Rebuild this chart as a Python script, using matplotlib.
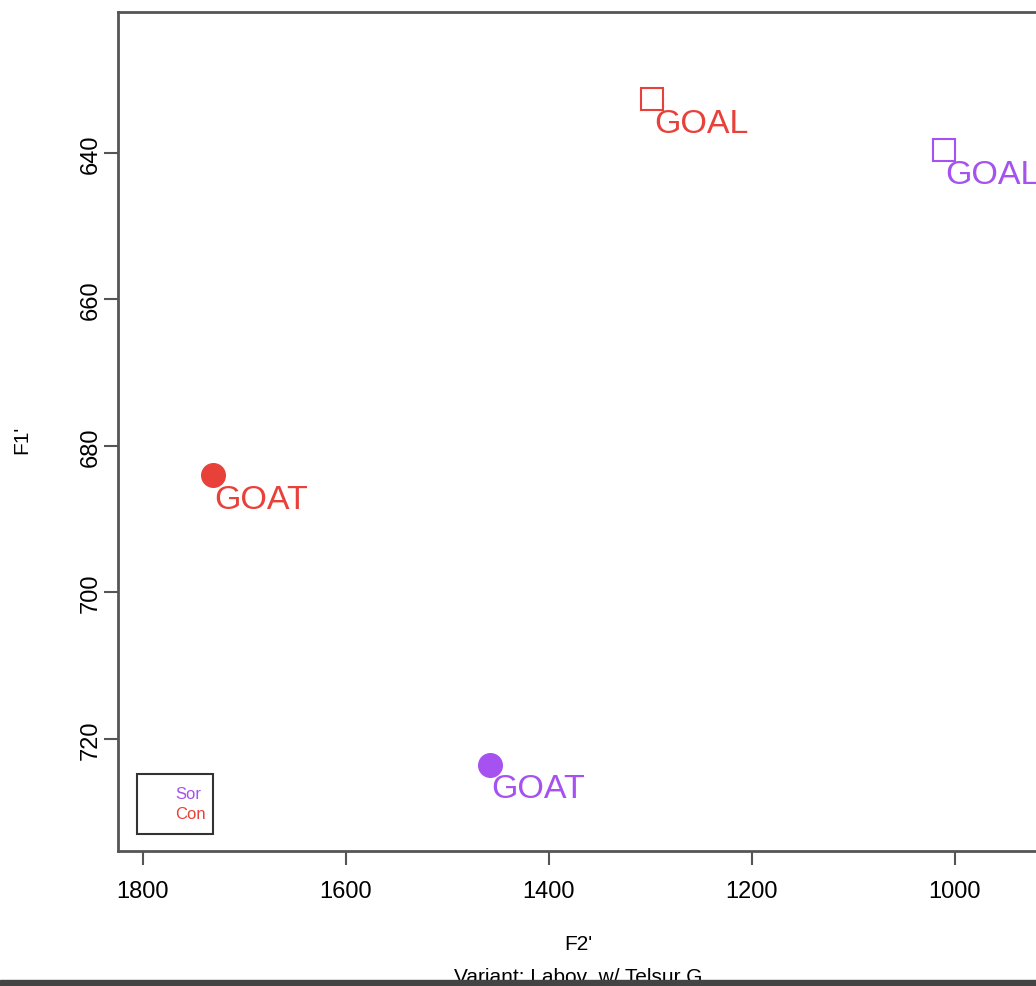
import matplotlib.pyplot as plt
from matplotlib.patches import Rectangle

plt.rcParams['font.family'] = ['Liberation Sans', 'DejaVu Sans']

# vowel means (F2', F1')
words = ['GOAL', 'GOAL', 'GOAT', 'GOAT']
groups = ['Con', 'Sor', 'Con', 'Sor']
f2 = [1298, 1011, 1731, 1458]
f1 = [632.6, 639.6, 684.0, 723.5]
markers = ['s', 's', 'o', 'o']

colors = {'Sor': '#a552f0', 'Con': '#e8413a'}
xticks = [1800, 1600, 1400, 1200, 1000]
yticks = [640, 660, 680, 700, 720]

fig = plt.figure(figsize=(10.36, 9.87), dpi=100)
ax = fig.add_axes([118/1036, 135/987, 942/1036, 839/987])

for w, g, x, y, m in zip(words, groups, f2, f1, markers):
    c = colors[g]
    if m == 's':
        ax.plot(x, y, m, ms=16, mfc='none', mec=c, mew=1.5)
    else:
        ax.plot(x, y, m, ms=17, color=c)
    ax.annotate(w, (x, y), xytext=(1.0, -17.5), textcoords='offset points',
                ha='left', va='center', color=c, fontsize=24.5)

ax.set_xlim(1824.6, 896.5)
ax.set_ylim(735.3, 620.75)
ax.set_xticks(xticks)
ax.set_yticks(yticks)
ax.tick_params(length=10, width=1.5, color='#555555', labelsize=17)
ax.tick_params(axis='x', pad=11)
ax.tick_params(axis='y', pad=2, labelrotation=90)
for lab in ax.get_yticklabels():
    lab.set_va('center')
for s in ax.spines.values():
    s.set_color('#555555')
    s.set_linewidth(2)

# legend box (R style, text only)
leg = Rectangle((19/942, (852-835)/839), 76/942, 60/839, transform=ax.transAxes,
                fill=False, ec='#333333', lw=1.5)
ax.add_patch(leg)
ax.text(57/942, (852-795)/839, 'Sor', transform=ax.transAxes, color=colors['Sor'],
        fontsize=12, ha='left', va='center')
ax.text(57/942, (852-815)/839, 'Con', transform=ax.transAxes, color=colors['Con'],
        fontsize=12, ha='left', va='center')

fig.text(22/1036, 1 - 440/987, "F1'", rotation=90, fontsize=15, ha='center', va='center')
fig.text(578/1036, 1 - 945/987, "F2'", fontsize=15, ha='center', va='center')
fig.text(578/1036, 1 - 978/987, 'Variant: Labov  w/ Telsur G', fontsize=15,
         ha='center', va='center')

# dark border strip at the bottom of the screenshot
fig.add_artist(Rectangle((0, 0), 1, 6/987, transform=fig.transFigure,
                         color='#444444', zorder=10))

fig.savefig('out.png', dpi=100)
